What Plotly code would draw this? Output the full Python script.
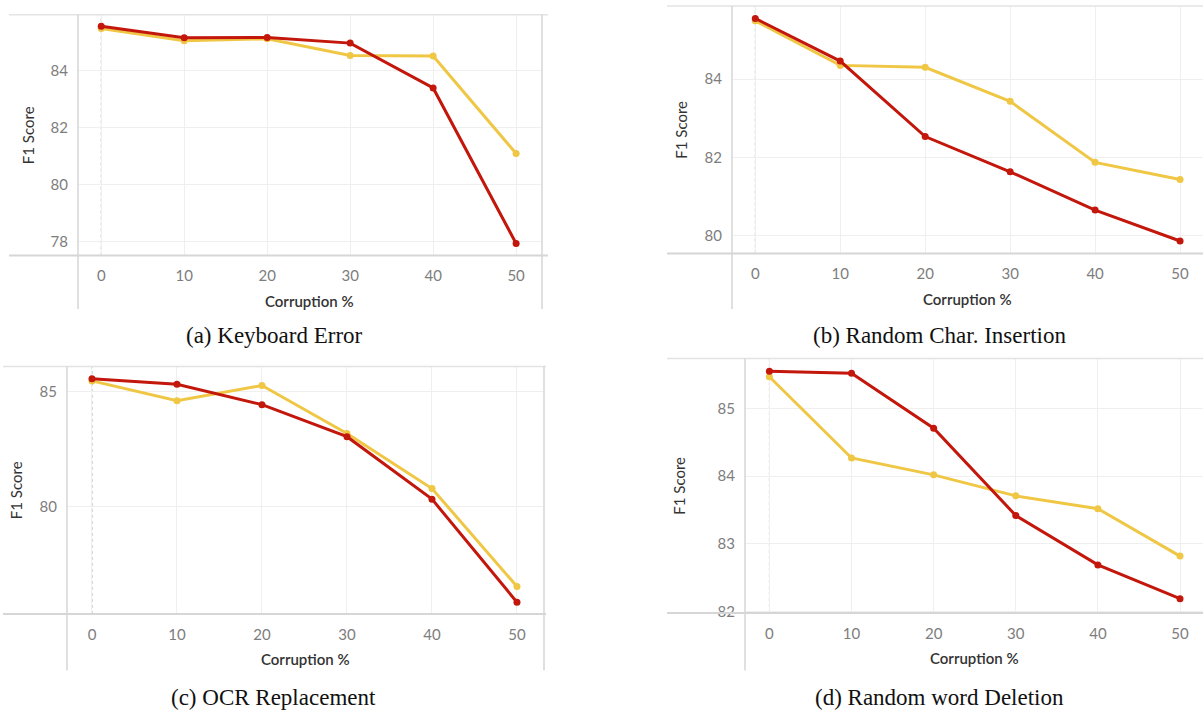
import plotly.graph_objects as go

W, H = 1203, 716

corruption = [0, 10, 20, 30, 40, 50]

# (a) Keyboard Error
kb_red = [85.55, 85.15, 85.16, 84.96, 83.39, 77.94]
kb_yellow = [85.47, 85.04, 85.11, 84.53, 84.51, 81.09]
# (b) Random Char. Insertion
ci_red = [85.55, 84.46, 82.53, 81.63, 80.65, 79.86]
ci_yellow = [85.49, 84.35, 84.30, 83.43, 81.87, 81.43]
# (c) OCR Replacement
ocr_red = [85.56, 85.32, 84.44, 83.05, 80.34, 75.87]
ocr_yellow = [85.47, 84.61, 85.27, 83.19, 80.80, 76.55]
# (d) Random word Deletion
wd_red = [85.55, 85.52, 84.71, 83.42, 82.69, 82.19]
wd_yellow = [85.47, 84.27, 84.02, 83.71, 83.52, 82.82]

captions = ["(a) Keyboard Error", "(b) Random Char. Insertion",
            "(c) OCR Replacement", "(d) Random word Deletion"]
y_ticks = [[78, 80, 82, 84], [80, 82, 84], [80, 85], [82, 83, 84, 85]]
x_ticks = [0, 10, 20, 30, 40, 50]

RED = "#c3170c"
YELLOW = "#efc745"
FRAME = "#d6d6d6"

# panel geometry in pixels: left, right, top, bottom, frame left, frame right, header bottom
panels = [
    dict(l=78, r=541, t=15, b=258, fl=9, fr=548, hb=312, xr=[-2.8, 53.0], yr=[77.52, 85.95],
         cap=(274, 339), ylab=28),
    dict(l=732, r=1203, t=6, b=256, fl=667, fr=1203, hb=312, xr=[-2.74, 52.7], yr=[79.54, 85.87],
         cap=(939, 339), ylab=681),
    dict(l=67, r=543, t=370, b=620, fl=3, fr=546, hb=677, xr=[-2.94, 53.06], yr=[75.36, 86.10],
         cap=(273, 704), ylab=16),
    dict(l=745, r=1203, t=362, b=619, fl=667, fr=1203, hb=677, xr=[-2.97, 52.8], yr=[81.98, 85.74],
         cap=(939, 704), ylab=679),
]
series = [(kb_red, kb_yellow), (ci_red, ci_yellow), (ocr_red, ocr_yellow), (wd_red, wd_yellow)]


def px(x):
    return x / W


def py(y):
    return 1 - y / H


fig = go.Figure()
shapes = []
annotations = []

for i, (p, (red, yel)) in enumerate(zip(panels, series)):
    n = "" if i == 0 else str(i + 1)
    xa, ya = "x" + n, "y" + n
    fig.add_trace(go.Scatter(x=corruption, y=yel, mode="lines+markers", xaxis=xa, yaxis=ya,
                             line=dict(color=YELLOW, width=3), marker=dict(size=7, color=YELLOW),
                             name="Model 2", showlegend=False))
    fig.add_trace(go.Scatter(x=corruption, y=red, mode="lines+markers", xaxis=xa, yaxis=ya,
                             line=dict(color=RED, width=3), marker=dict(size=7, color=RED),
                             name="Model 1", showlegend=False))
    fig.layout["xaxis" + n] = dict(
        domain=[px(p["l"]), px(p["r"])], range=p["xr"], anchor=ya,
        tickvals=x_ticks, showgrid=True, gridcolor="#efefef", gridwidth=1,
        zeroline=False, showline=False, ticks="", ticklabelstandoff=10,
        tickfont=dict(family="Lato", size=15, color="#7d7d7d"), fixedrange=True)
    fig.layout["yaxis" + n] = dict(
        domain=[py(p["b"]), py(p["t"])], range=p["yr"], anchor=xa,
        tickvals=y_ticks[i], showgrid=True, gridcolor="#efefef", gridwidth=1,
        zeroline=False, showline=False, ticks="", ticklabelstandoff=9,
        tickfont=dict(family="Lato", size=15, color="#7d7d7d"), fixedrange=True)

    # frame lines
    shapes.append(dict(type="line", xref="paper", yref="paper", x0=px(p["fl"]), x1=px(p["fr"]),
                       y0=py(p["t"]), y1=py(p["t"]), line=dict(color="#e3e3e3", width=1.5)))
    shapes.append(dict(type="line", xref="paper", yref="paper", x0=px(p["fl"]), x1=px(p["fr"]),
                       y0=py(p["b"]), y1=py(p["b"]), line=dict(color=FRAME, width=2)))
    shapes.append(dict(type="line", xref="paper", yref="paper", x0=px(p["l"]), x1=px(p["l"]),
                       y0=py(p["t"]), y1=py(p["hb"]), line=dict(color=FRAME, width=1.5)))
    if p["r"] < 1200:
        shapes.append(dict(type="line", xref="paper", yref="paper", x0=px(p["r"] + 1), x1=px(p["r"] + 1),
                           y0=py(p["t"]), y1=py(p["hb"]), line=dict(color=FRAME, width=1.5)))
    # zero dotted line
    shapes.append(dict(type="line", xref=xa, yref=ya + " domain", x0=0, x1=0, y0=0, y1=1,
                       line=dict(color="#b0b0b0", width=1, dash="dot"), layer="below"))

    annotations.append(dict(text="Corruption %", xref="paper", yref="paper",
                            x=px((p["l"] + p["r"]) / 2), y=py(p["b"] + 46), showarrow=False,
                            font=dict(family="Lato", size=15, color="#333333", weight=600),
                            xanchor="center", yanchor="middle"))
    annotations.append(dict(text="F1 Score", xref="paper", yref="paper", textangle=-90,
                            x=px(p["ylab"]), y=py((p["t"] + p["b"]) / 2), showarrow=False,
                            font=dict(family="Lato", size=15, color="#333333"),
                            xanchor="center", yanchor="middle"))
    annotations.append(dict(text=captions[i], xref="paper", yref="paper",
                            x=px(p["cap"][0]), y=py(p["cap"][1]), showarrow=False,
                            font=dict(family="Liberation Serif", size=23, color="#111111"),
                            xanchor="center", yanchor="middle"))

fig.update_layout(width=W, height=H, margin=dict(l=0, r=0, t=0, b=0),
                  paper_bgcolor="white", plot_bgcolor="white",
                  shapes=shapes, annotations=annotations, showlegend=False)

fig.write_html("out.html", config={"displayModeBar": False},
               post_script="document.body.style.margin='0';document.body.style.overflow='hidden';")
